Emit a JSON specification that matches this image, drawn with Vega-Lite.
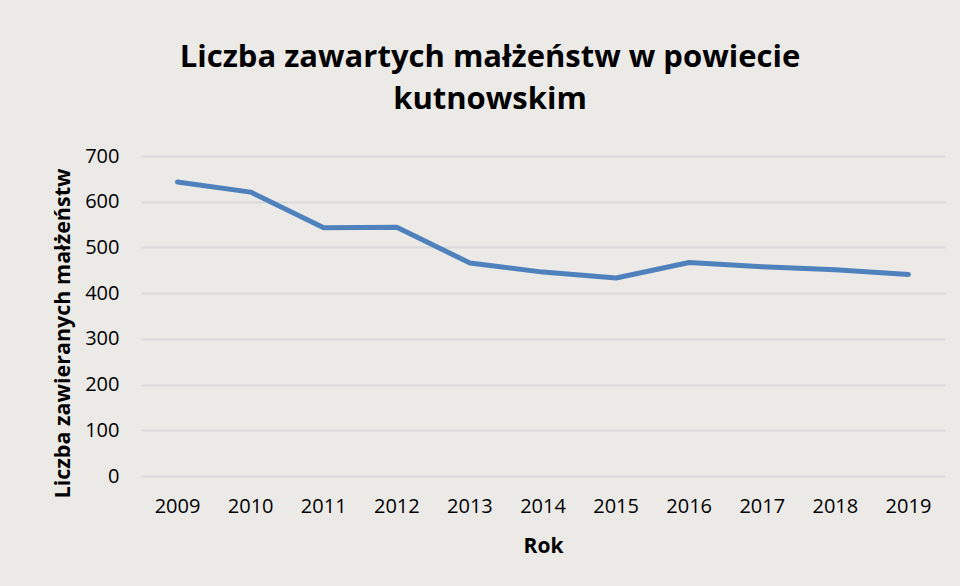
{
  "$schema": "https://vega.github.io/schema/vega-lite/v6.json",
  "autosize": {"type": "none"},
  "width": 804,
  "height": 320,
  "padding": {"left": 141, "top": 156, "right": 15, "bottom": 110},
  "background": "#ebeae7",
  "view": {"stroke": null},
  "title": {
    "text": ["Liczba zawartych małżeństw w powiecie", "kutnowskim"],
    "font": "Open Sans",
    "fontSize": 31,
    "fontWeight": "bold",
    "color": "#000000",
    "anchor": "middle",
    "dx": -53,
    "offset": 30,
    "lineHeight": 42
  },
  "data": {
    "values": [
      {"rok": "2009", "wartosc": 643},
      {"rok": "2010", "wartosc": 621},
      {"rok": "2011", "wartosc": 543},
      {"rok": "2012", "wartosc": 544},
      {"rok": "2013", "wartosc": 466},
      {"rok": "2014", "wartosc": 446},
      {"rok": "2015", "wartosc": 433},
      {"rok": "2016", "wartosc": 467},
      {"rok": "2017", "wartosc": 458},
      {"rok": "2018", "wartosc": 451},
      {"rok": "2019", "wartosc": 441}
    ]
  },
  "mark": {"type": "line", "color": "#4f81bd", "strokeWidth": 5, "strokeCap": "round", "strokeJoin": "round"},
  "encoding": {
    "x": {
      "field": "rok",
      "type": "ordinal",
      "scale": {"type": "band", "paddingInner": 0, "paddingOuter": 0},
      "axis": {
        "title": "Rok",
        "titleFont": "Open Sans",
        "titleFontSize": 21,
        "titleFontWeight": "bold",
        "titleColor": "#000000",
        "titlePadding": 19,
        "labelFont": "Open Sans",
        "labelFontSize": 20,
        "labelColor": "#000000",
        "labelAngle": 0,
        "labelPadding": 20,
        "domain": false,
        "ticks": false,
        "grid": false
      }
    },
    "y": {
      "field": "wartosc",
      "type": "quantitative",
      "scale": {"domain": [0, 700], "nice": false},
      "axis": {
        "title": "Liczba zawieranych małżeństw",
        "titleFont": "Open Sans",
        "titleFontSize": 21.5,
        "titleFontWeight": "bold",
        "titleColor": "#000000",
        "titlePadding": 10,
        "titleY": 177,
        "labelFont": "Open Sans",
        "labelFontSize": 20,
        "labelColor": "#000000",
        "labelPadding": 22,
        "values": [0, 100, 200, 300, 400, 500, 600, 700],
        "domain": false,
        "ticks": false,
        "grid": true,
        "gridColor": "#d9d9d9",
        "gridWidth": 2
      }
    }
  }
}
